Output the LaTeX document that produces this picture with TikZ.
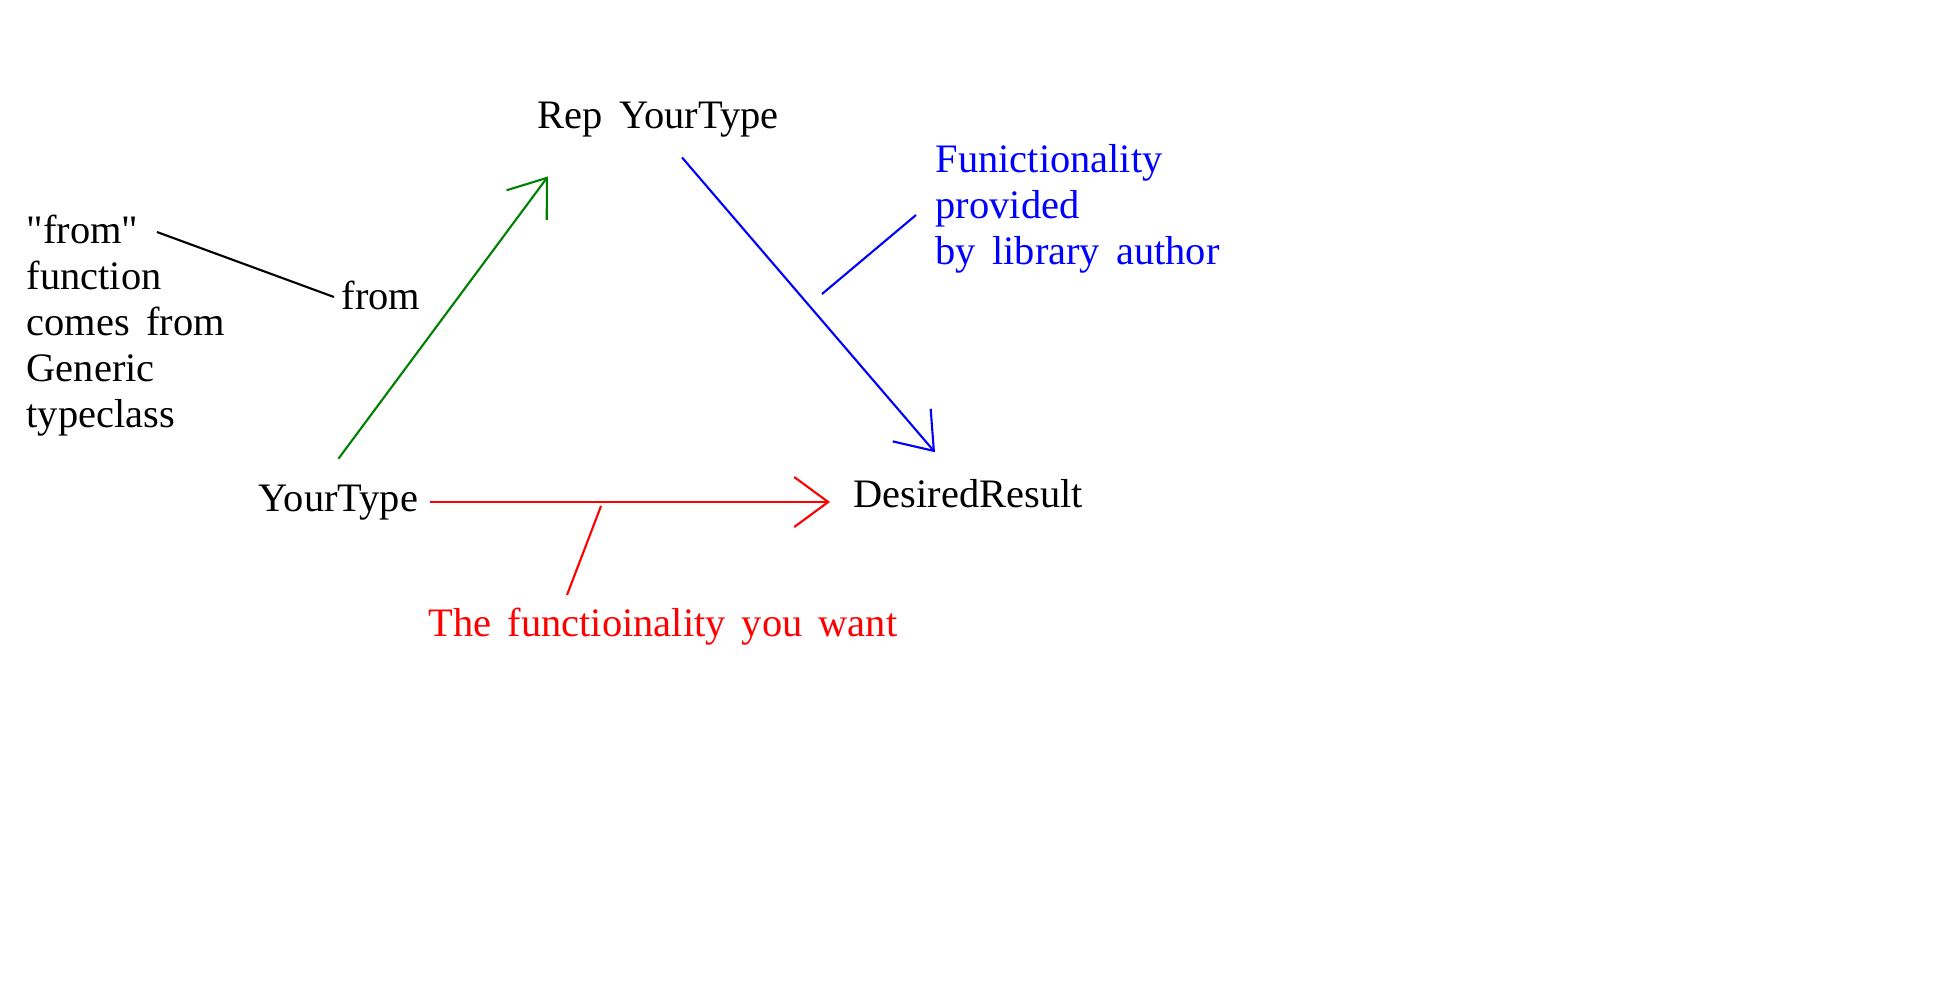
\documentclass[tikz,border=0pt]{standalone}
\usepackage{fontspec}
\setmainfont{Liberation Serif}[WordSpace=1.6, Ligatures=TeXOff]
\usetikzlibrary{arrows.meta,calc}
\definecolor{fngreen}{RGB}{0,128,0}
\tikzstyle{arrow} = [line width=0.6pt,-{Straight Barb[length=0.34cm,width=0.5cm]}]
\tikzstyle{lead} = [line width=0.6pt]
\tikzstyle{lbl} = [inner sep=0pt, anchor=base west]
\tikzstyle{note} = [inner sep=0pt, anchor=north west, align=left]

\begin{document}
\begin{tikzpicture}[x=0.01cm, y=-0.01cm, font=\fontsize{11.5}{13.1}\selectfont]
    \useasboundingbox (0,0) rectangle (1957,999);

    \node (rep) [lbl] at (537,128) {Rep YourType};
    \node (yt) [lbl] at (258,511) {YourType};
    \node (dr) [lbl] at (853,507) {DesiredResult};

    \node (fromnote) [note] at (26,214) {"from"\\function\\comes from\\Generic\\typeclass};
    \node (fromlbl) [lbl] at (341,309) {from};
    \draw [lead] ($(fromnote.north west)+(131,18)$) -- ($(fromlbl.base west)+(-7,-12)$);
    \draw [arrow, fngreen] ($(yt.north)+(0,-25)$) -- ($(rep.south west)+(11,39)$);

    \node (libnote) [note, text=blue] at (935,144) {Funictionality\\provided\\by library author};
    \coordinate (bluefree) at (822,294);
    \draw [arrow, blue] ($(rep.south west)+(145,20)$) -- ($(dr.north west)+(82,-26)$);
    \draw [lead, blue] (bluefree) -- ($(libnote.north west)+(-19,71)$);

    \node (wantnote) [lbl, text=red] at (428,636) {The functioinality you want};
    \coordinate (redfree) at (601,506);
    \draw [arrow, red] ($(yt.base west)+(172,-9)$) -- ($(dr.base west)+(-23,-5)$);
    \draw [lead, red] ($(wantnote.base west)+(139,-41)$) -- (redfree);

\end{tikzpicture}
\end{document}
